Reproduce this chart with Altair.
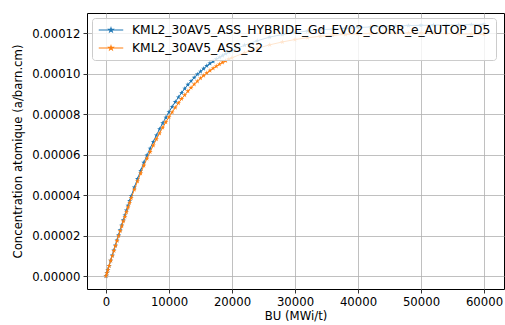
import altair as alt
import pandas as pd

# Burnup steps (MWj/t)
bu = [0, 150, 300, 500, 750, 1000, 1250, 1500, 1750, 2000, 2250, 2500, 2750, 3000,
      3250, 3500, 3750, 4000, 4500, 5000, 5500, 6000, 6500, 7000, 7500, 8000, 8500,
      9000, 9500, 10000, 10500, 11000, 11500, 12000, 12500, 13000, 13500, 14000,
      14500, 15000, 15500, 16000, 16500, 17000, 17500, 18000, 18500, 19000, 19500,
      20000, 22000, 24000, 26000, 28000, 30000, 32000, 34000, 36000, 38000, 40000,
      42000, 44000, 46000, 48000, 50000, 52000, 54000, 56000, 58000, 60000]

# Concentrations in units of 1e-5 a/barn.cm
hybride = [0, 0.15, 0.31, 0.51, 0.77, 1.02, 1.27, 1.52, 1.77, 2.02, 2.27, 2.51, 2.76, 3.0,
           3.24, 3.48, 3.71, 3.95, 4.38, 4.8, 5.2, 5.6, 5.96, 6.3, 6.63, 6.95, 7.26,
           7.55, 7.83, 8.1, 8.36, 8.6, 8.83, 9.05, 9.26, 9.45, 9.63, 9.8,
           9.96, 10.1, 10.24, 10.38, 10.5, 10.6, 10.71, 10.8, 10.89, 10.98, 11.06,
           11.13, 11.4, 11.62, 11.8, 11.93, 12.03, 12.1, 12.15, 12.2, 12.23, 12.27,
           12.3, 12.32, 12.35, 12.37, 12.38, 12.39, 12.4, 12.41, 12.42, 12.43]
s2 = [0, 0.15, 0.3, 0.5, 0.76, 1.0, 1.25, 1.49, 1.74, 1.98, 2.22, 2.46, 2.7, 2.93,
      3.16, 3.39, 3.62, 3.85, 4.27, 4.68, 5.07, 5.45, 5.8, 6.13, 6.45, 6.76, 7.05,
      7.33, 7.6, 7.85, 8.09, 8.32, 8.54, 8.75, 8.94, 9.13, 9.3, 9.47,
      9.62, 9.77, 9.9, 10.03, 10.15, 10.26, 10.36, 10.46, 10.55, 10.63, 10.71,
      10.78, 11.03, 11.24, 11.42, 11.56, 11.68, 11.77, 11.84, 11.89, 11.93, 11.96,
      11.98, 11.99, 12.0, 12.0, 12.0, 11.99, 11.98, 11.96, 11.95, 11.93]

names = ["KML2_30AV5_ASS_HYBRIDE_Gd_EV02_CORR_e_AUTOP_D5", "KML2_30AV5_ASS_S2"]
colors = ["#1f77b4", "#ff7f0e"]
x_ticks = [0, 10000, 20000, 30000, 40000, 50000, 60000]
y_ticks = [0, 0.00002, 0.00004, 0.00006, 0.00008, 0.0001, 0.00012]

rows = []
for n, vals in zip(names, [hybride, s2]):
    for b, v in zip(bu, vals):
        rows.append({"BU": b, "conc": v * 1e-5, "serie": n})
df = pd.DataFrame(rows)

STAR = ("M0,-1L0.223,-0.307L0.951,-0.309L0.361,0.117L0.588,0.809L0,0.38"
        "L-0.588,0.809L-0.361,0.117L-0.951,-0.309L-0.223,-0.307Z")
LEG = ("M-2,0L2,0M0,-0.36L0.08,-0.11L0.342,-0.111L0.13,0.042L0.212,0.291L0,0.137"
       "L-0.212,0.291L-0.13,0.042L-0.342,-0.111L-0.08,-0.11Z")

FONT = "DejaVu Sans"
xscale = alt.Scale(domain=[-3016, 63175], nice=False, zero=False)
yscale = alt.Scale(domain=[-0.0000064, 0.0001299], nice=False, zero=False)
cscale = alt.Scale(domain=names, range=colors)

xenc = alt.X("BU:Q", scale=xscale, title="BU (MWi/t)",
             axis=alt.Axis(values=x_ticks, format="d", titlePadding=3))
yenc = alt.Y("conc:Q", scale=yscale, title="Concentration atomique (a/barn.cm)",
             axis=alt.Axis(values=y_ticks, format=".5f", titlePadding=8))
cenc = alt.Color("serie:N", scale=cscale, title=None,
                 legend=alt.Legend(orient="none", legendX=5, legendY=5,
                                   symbolType=LEG, symbolSize=150, symbolStrokeWidth=1.1,
                                   labelFontSize=12.3, labelFont=FONT, labelColor="#000",
                                   fillColor="rgba(255,255,255,0.8)", strokeColor="#cccccc",
                                   cornerRadius=3, padding=5, rowPadding=4,
                                   symbolOffset=7, labelOffset=14, labelLimit=500))

layers = []
for n in names:
    base = alt.Chart(df).transform_filter(alt.datum.serie == n)
    layers.append(base.mark_line(strokeWidth=1).encode(x=xenc, y=yenc, color=cenc))
    layers.append(base.mark_point(shape=STAR, filled=True, size=28, opacity=1,
                                  strokeWidth=0).encode(x=xenc, y=yenc, color=cenc))

chart = alt.layer(*layers).properties(
    width=417, height=276,
    padding={"left": 87, "top": 13, "right": 1, "bottom": 36},
    autosize=alt.AutoSizeParams(type="none"),
    background="white",
).configure_view(stroke="#000000", strokeWidth=1).configure_axis(
    grid=True, gridColor="#b0b0b0", gridWidth=0.8,
    domain=False, tickColor="#000", tickSize=4, tickWidth=0.8,
    labelFont=FONT, labelFontSize=11.7, labelColor="#000", labelPadding=3,
    titleFont=FONT, titleFontSize=11.7, titleFontWeight="normal", titleColor="#000",
)

chart.save("out.html", embed_options={"renderer": "svg", "actions": False})
